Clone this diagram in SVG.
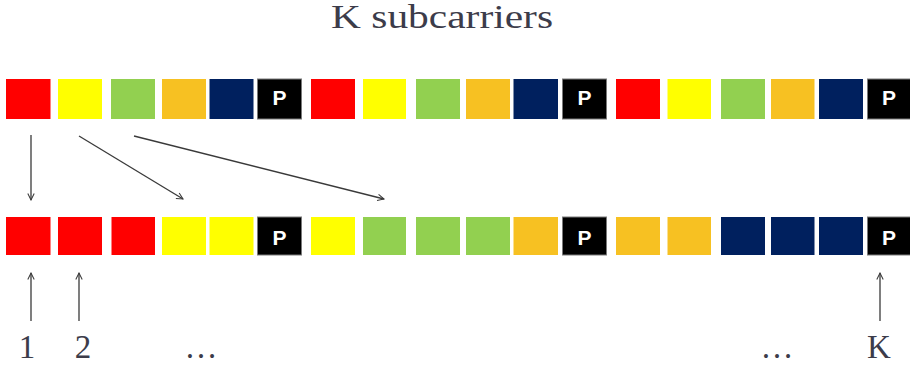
<svg xmlns="http://www.w3.org/2000/svg" width="910" height="367" viewBox="0 0 910 367">
  <defs>
    <style>
      .r { fill: #ff0000; }
      .y { fill: #ffff00; }
      .g { fill: #92d050; }
      .o { fill: #f7c122; }
      .n { fill: #00205e; }
      .k { fill: #000000; stroke: #7a7a7a; stroke-width: 1; }
      .p { fill: #ffffff; font-family: "Liberation Sans", Arial, sans-serif; font-weight: bold; font-size: 21px; text-anchor: middle; }
      .lbl { fill: #3c3c4a; font-family: "Liberation Serif", "DejaVu Serif", serif; font-size: 33px; }
      .arr { stroke: #3a3a3a; stroke-width: 1.3; fill: none; marker-end: url(#head); }
    </style>
    <marker id="head" viewBox="0 0 10 10" refX="9" refY="5" markerWidth="8" markerHeight="8" markerUnits="userSpaceOnUse" orient="auto">
      <path d="M1,1 L9,5 L1,9" fill="none" stroke="#3a3a3a" stroke-width="1.3"/>
    </marker>
  </defs>

  <rect width="910" height="367" fill="#ffffff"/>

  <text id="title" class="lbl" x="442" y="28" text-anchor="middle" textLength="222" lengthAdjust="spacingAndGlyphs">K subcarriers</text>

  <!-- transmitted order: groups of user symbols followed by a pilot -->
  <g id="row-top">
    <rect class="r" x="6" y="79" width="44.5" height="40"/>
    <rect class="y" x="58" y="79" width="44" height="40"/>
    <rect class="g" x="111" y="79" width="44" height="40"/>
    <rect class="o" x="162" y="79" width="44" height="40"/>
    <rect class="n" x="209.5" y="79" width="44" height="40"/>
    <g id="p-top-1"><rect class="k" x="257.5" y="79" width="44" height="40"/><text class="p" x="279.5" y="104.5">P</text></g>
    <rect class="r" x="311" y="79" width="44" height="40"/>
    <rect class="y" x="363" y="79" width="43" height="40"/>
    <rect class="g" x="416" y="79" width="44" height="40"/>
    <rect class="o" x="466" y="79" width="44" height="40"/>
    <rect class="n" x="513.5" y="79" width="44.5" height="40"/>
    <g id="p-top-2"><rect class="k" x="562.5" y="79" width="44" height="40"/><text class="p" x="584.5" y="104.5">P</text></g>
    <rect class="r" x="616" y="79" width="44" height="40"/>
    <rect class="y" x="667.5" y="79" width="43.5" height="40"/>
    <rect class="g" x="721" y="79" width="44" height="40"/>
    <rect class="o" x="771" y="79" width="43.5" height="40"/>
    <rect class="n" x="819" y="79" width="44" height="40"/>
    <g id="p-top-3"><rect class="k" x="867.5" y="79" width="43" height="40"/><text class="p" x="889" y="104.5">P</text></g>
  </g>

  <!-- mapped order on the K subcarriers -->
  <g id="row-bottom">
    <rect class="r" x="6" y="217" width="44.5" height="38"/>
    <rect class="r" x="58" y="217" width="44" height="38"/>
    <rect class="r" x="111.5" y="217" width="43.5" height="38"/>
    <rect class="y" x="162" y="217" width="44" height="38"/>
    <rect class="y" x="209.5" y="217" width="44" height="38"/>
    <g id="p-bot-1"><rect class="k" x="257.5" y="217" width="44" height="38"/><text class="p" x="279.5" y="245">P</text></g>
    <rect class="y" x="311" y="217" width="44" height="38"/>
    <rect class="g" x="363" y="217" width="43" height="38"/>
    <rect class="g" x="416" y="217" width="44" height="38"/>
    <rect class="g" x="466" y="217" width="44" height="38"/>
    <rect class="o" x="513.5" y="217" width="44.5" height="38"/>
    <g id="p-bot-2"><rect class="k" x="562.5" y="217" width="44" height="38"/><text class="p" x="584.5" y="245">P</text></g>
    <rect class="o" x="616" y="217" width="44" height="38"/>
    <rect class="o" x="667.5" y="217" width="43.5" height="38"/>
    <rect class="n" x="721" y="217" width="44" height="38"/>
    <rect class="n" x="771" y="217" width="43.5" height="38"/>
    <rect class="n" x="819" y="217" width="44" height="38"/>
    <g id="p-bot-3"><rect class="k" x="867.5" y="217" width="43" height="38"/><text class="p" x="889" y="245">P</text></g>
  </g>

  <g id="connectors">
    <line class="arr" x1="31" y1="135" x2="31" y2="200"/>
    <line class="arr" x1="79" y1="136" x2="183" y2="199"/>
    <line class="arr" x1="134" y1="136" x2="384" y2="199"/>
    <line class="arr" x1="31" y1="321" x2="31" y2="273"/>
    <line class="arr" x1="79" y1="321" x2="79" y2="273"/>
    <line class="arr" x1="880" y1="321" x2="880" y2="273"/>
  </g>

  <g id="index-labels">
    <text class="lbl" x="27" y="358" text-anchor="middle">1</text>
    <text class="lbl" x="83" y="358" text-anchor="middle">2</text>
    <text class="lbl" x="201" y="358" text-anchor="middle">…</text>
    <text class="lbl" x="777" y="358" text-anchor="middle">…</text>
    <text class="lbl" x="879" y="358" text-anchor="middle">K</text>
  </g>
</svg>
